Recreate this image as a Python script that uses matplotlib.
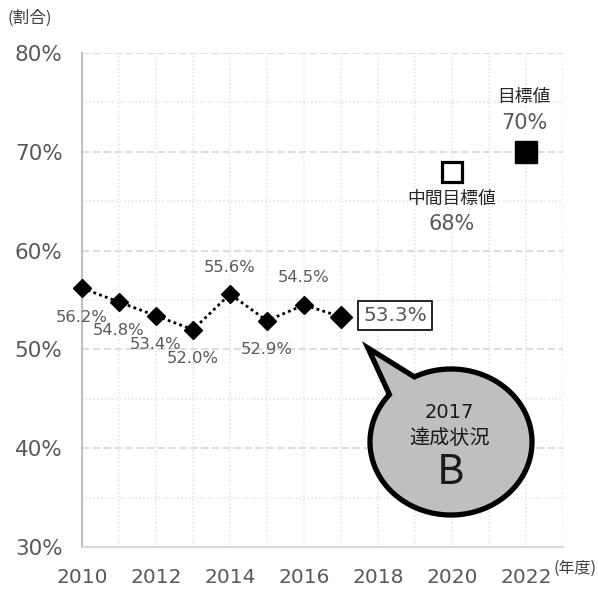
import numpy as np
import matplotlib
matplotlib.use("Agg")
import matplotlib.pyplot as plt
from matplotlib.path import Path
from matplotlib.patches import PathPatch
from matplotlib.ticker import MultipleLocator, FuncFormatter

# ---- data ----
years = [2010, 2011, 2012, 2013, 2014, 2015, 2016, 2017]
rates = [56.2, 54.8, 53.4, 52.0, 55.6, 52.9, 54.5, 53.3]
label_pos = ["below", "below", "below", "below", "above", "below", "above", "box"]
mid_target_year = [2020]
mid_target_value = [68]
target_year = [2022]
target_value = [70]
xticks = [2010, 2012, 2014, 2016, 2018, 2020, 2022]

JP = ["Noto Sans CJK JP", "DejaVu Sans"]
GREY = "#595959"

W, H = 598, 590
fig = plt.figure(figsize=(W / 100, H / 100), dpi=100)
ax = fig.add_axes([82 / W, (H - 547) / H, (563 - 82) / W, (547 - 53) / H])

ax.set_xlim(2010, 2023)
ax.set_ylim(30, 80)

# grid
ax.set_xticks(xticks)
ax.yaxis.set_major_locator(MultipleLocator(10))
ax.grid(False)
for y in np.arange(40, 81, 10):
    ax.axhline(y, color="#d9d9d9", lw=1.3, ls=(0, (4, 2)), zorder=0)
for y in np.arange(35, 80, 10):
    ax.axhline(y, color="#e3e3e3", lw=1.1, ls=(0, (1, 1.5)), zorder=0)
for x in range(2011, 2024):
    ax.axvline(x, color="#e3e3e3", lw=1.1, ls=(0, (1, 1.5)), zorder=0)

for s in ["top", "right"]:
    ax.spines[s].set_visible(False)
ax.spines["left"].set_color("#bfbfbf")
ax.spines["left"].set_linewidth(1.5)
ax.spines["bottom"].set_color("#d9d9d9")
ax.spines["bottom"].set_linewidth(1.5)

ax.tick_params(axis="both", which="both", length=0)
ax.tick_params(axis="y", pad=14, labelsize=15.5, labelcolor=GREY)
ax.tick_params(axis="x", pad=15, labelsize=14.5, labelcolor=GREY)
ax.yaxis.set_major_formatter(FuncFormatter(lambda v, p: f"{v:.0f}%"))

# series
ax.plot(years, rates, color="black", ls=(0, (1, 1.2)), lw=2, zorder=3, clip_on=False)
ax.plot(years[:-1], rates[:-1], ls="none", marker="D", ms=9, color="black",
        zorder=4, clip_on=False)
ax.plot(years[-1:], rates[-1:], ls="none", marker="D", ms=11.5, color="black",
        zorder=4, clip_on=False)

for x, v, pos in zip(years, rates, label_pos):
    if pos == "box":
        ax.annotate(f"{v:.1f}%", (x, v), xytext=(54, 1), textcoords="offset pixels",
                    ha="center", va="center", fontsize=14.5, color=GREY,
                    bbox=dict(boxstyle="square,pad=0.25", fc="white", ec="black", lw=1.2))
    else:
        dy = -29 if pos == "below" else 27
        ax.annotate(f"{v:.1f}%", (x, v), xytext=(0, dy), textcoords="offset pixels",
                    ha="center", va="center", fontsize=11.8, color=GREY)

# targets
ax.plot(mid_target_year, mid_target_value, ls="none", marker="s", ms=14,
        mfc="white", mec="black", mew=2.3, zorder=4)
ax.plot(target_year, target_value, ls="none", marker="s", ms=16,
        color="black", zorder=4)
ax.annotate("中間目標値", (mid_target_year[0], mid_target_value[0]), xytext=(0, -27),
            textcoords="offset pixels", ha="center", va="center", fontsize=12.8,
            color="#262626", family=JP)
ax.annotate(f"{mid_target_value[0]}%", (mid_target_year[0], mid_target_value[0]),
            xytext=(0, -52), textcoords="offset pixels", ha="center", va="center",
            fontsize=15, color=GREY)
ax.annotate("目標値", (target_year[0], target_value[0]), xytext=(-2, 55),
            textcoords="offset pixels", ha="center", va="center", fontsize=12.8,
            color="#262626", family=JP)
ax.annotate(f"{target_value[0]}%", (target_year[0], target_value[0]), xytext=(-2, 29),
            textcoords="offset pixels", ha="center", va="center", fontsize=15,
            color=GREY)

# axis unit labels
fig.text(30 / W, 1 - 18 / H, "(割合)", ha="center", va="center", fontsize=12,
         color="#404040", family=JP)
fig.text(575 / W, 1 - 568 / H, "(年度)", ha="center", va="center", fontsize=11.5,
         color="#404040", family=JP)

# speech bubble (in figure pixels)
cx, cy, rx, ry = 451, 442, 81, 73
tip = (368, 348)
def ang(px, py):
    return np.arctan2((py - cy) / ry, (px - cx) / rx)
a_up = ang(415, 378)
a_lo = ang(390, 395)
ts = np.linspace(a_up, a_lo + 2 * np.pi, 200) if a_lo < a_up else np.linspace(a_up, a_lo, 200)
pts = [(cx + rx * np.cos(t), cy + ry * np.sin(t)) for t in ts]
pts.append(tip)
pts.append(pts[0])
verts = [(px / W, 1 - py / H) for px, py in pts]
codes = [Path.MOVETO] + [Path.LINETO] * (len(verts) - 2) + [Path.CLOSEPOLY]
bubble = PathPatch(Path(verts, codes), transform=fig.transFigure, fc="#bfbfbf",
                   ec="black", lw=3.8, joinstyle="miter", zorder=10)
fig.patches.append(bubble)
fig.text(449 / W, 1 - 412 / H, "2017", ha="center", va="center", fontsize=14,
         color="#1a1a1a", zorder=11)
fig.text(450 / W, 1 - 438 / H, "達成状況", ha="center", va="center", fontsize=14.5,
         color="#1a1a1a", family=JP, zorder=11)
fig.text(450 / W, 1 - 473 / H, "B", ha="center", va="center", fontsize=30,
         color="#1a1a1a", family=JP, zorder=11)

fig.savefig("out.png", dpi=100)
